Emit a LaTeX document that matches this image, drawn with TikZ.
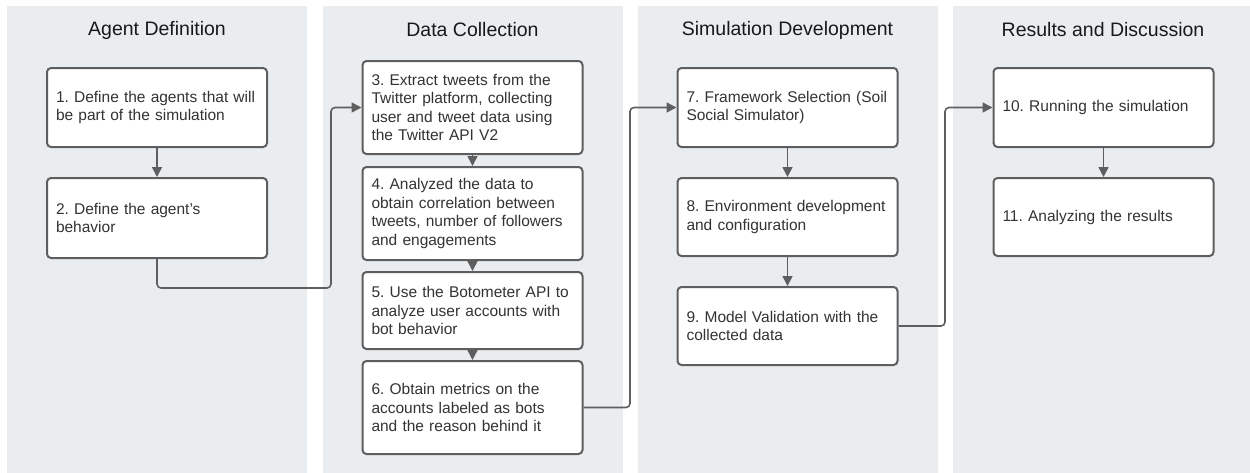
\documentclass[tikz,border=0pt]{standalone}
\usepackage{fontspec}
\setmainfont{Liberation Sans}
\usetikzlibrary{arrows.meta}
\definecolor{lanegray}{HTML}{E9EDF0}
\definecolor{edgegray}{HTML}{5E5E5E}
\definecolor{textgray}{HTML}{333333}
\frenchspacing
\hyphenpenalty=10000
\begin{document}
\begin{tikzpicture}[x=1pt,y=-1pt,
    lane/.style={fill=lanegray,draw=none,minimum width=300pt,minimum height=474pt,inner sep=0pt},
    head/.style={font=\fontsize{19.5}{23}\selectfont,text=black!90},
    task/.style={draw=edgegray,line width=2pt,rounded corners=4pt,fill=white,text=textgray,text width=202pt,inner xsep=9pt,inner ysep=0pt,minimum height=79pt,align=left,font=\fontsize{15.5}{18.6}\selectfont},
    tall/.style={minimum height=93pt},
    flow/.style={draw=edgegray,line width=1.6pt,-{Triangle[length=10pt,width=10pt]}},
    link/.style={flow,rounded corners=4pt}]
    \useasboundingbox (0,0) rectangle (1250,472);
    \node [lane] (L1) at (157,243) {}; \node [lane] (L2) at (472.5,243) {}; \node [lane] (L3) at (787.5,243) {}; \node [lane] (L4) at (1103,243) {};
    \node [head] (H1) at (157,30) {Agent Definition}; \node [head] (H2) at (472.5,30) {Data Collection};
    \node [head] (H3) at (787.5,30) {Simulation Development}; \node [head] (H4) at (1103,30) {Results and Discussion};
%
    \node [task] (S1) at (157,107.5) {1. Define the agents that will\\be part of the simulation};
    \node [task,minimum height=80pt] (S2) at (157,218) {2. Define the agent's\\behavior};
%
    \node [task,tall] (S3) at (472.5,107.5) {3. Extract tweets from the\\Twitter platform, collecting\\user and tweet data using\\the Twitter API V2};
    \node [task,tall] (S4) at (472.5,213.5) {4. Analyzed the data to\\obtain correlation between\\tweets, number of followers\\and engagements};
    \node [task,minimum height=77pt] (S5) at (472.5,310.5) {5. Use the Botometer API to\\analyze user accounts with\\bot behavior};
    \node [task,tall] (S6) at (472.5,407.5) {6. Obtain metrics on the\\accounts labeled as bots\\and the reason behind it};
%
    \node [task] (S7) at (787.5,107.5) {7. Framework Selection (Soil\\Social Simulator)};
    \node [task,minimum height=78pt] (S8) at (787.5,217) {8. Environment development\\and configuration};
    \node [task,minimum height=78pt] (S9) at (787.5,326) {9. Model Validation with the\\collected data};
%
    \node [task] (S10) at (1103.5,107.5) {10. Running the simulation};
    \node [task,minimum height=78pt] (S11) at (1103.5,217) {11. Analyzing the results};
%
    \coordinate (K1) at (331,288); \coordinate (K2) at (630,407.5); \coordinate (K3) at (945,326);
%
    \draw [flow] (S1) -- (S2);
    \draw [link] (S2.south) |- (K1) |- (S3.west);
%
    \draw [flow] (S3) -- (S4); \draw [flow] (S4) -- (S5); \draw [flow] (S5) -- (S6);
    \draw [link] (S6.east) -- (K2) |- (S7.west);
%
    \draw [flow] (S7) -- (S8); \draw [flow] (S8) -- (S9);
    \draw [link] (S9.east) -- (K3) |- (S10.west);
%
    \draw [flow] (S10) -- (S11);
\end{tikzpicture}
\end{document}
